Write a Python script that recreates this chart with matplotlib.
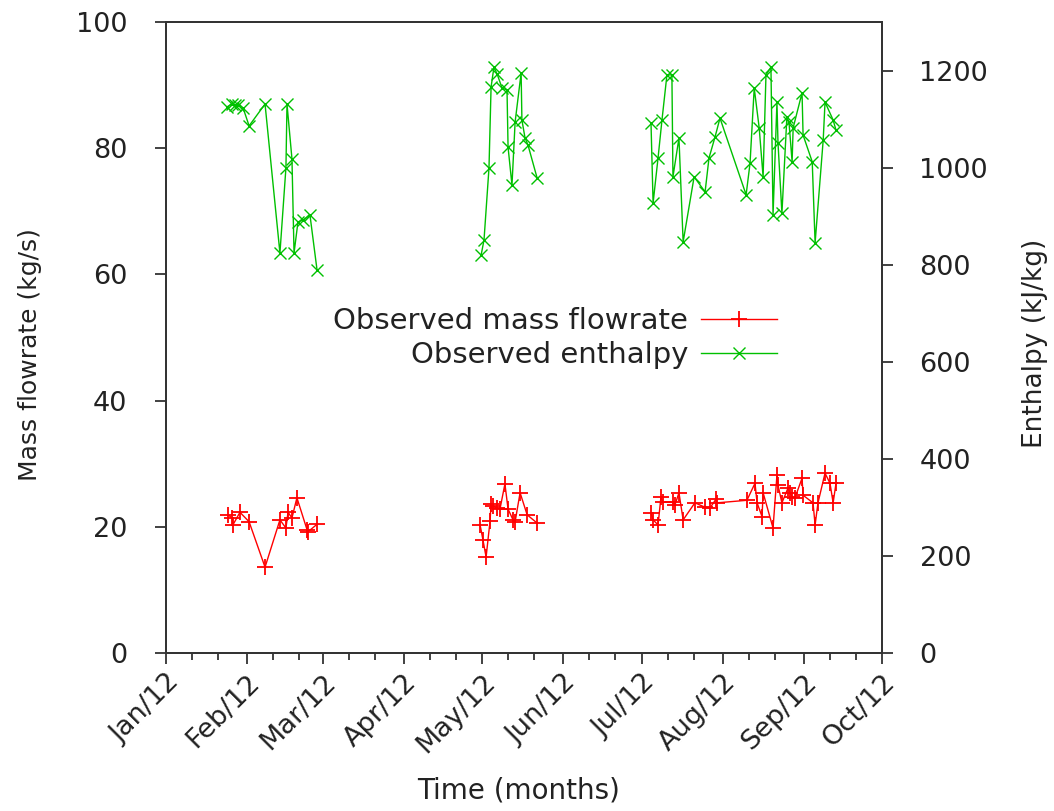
import numpy as np
import matplotlib
matplotlib.use("Agg")
import matplotlib.pyplot as plt
import matplotlib.dates as mdates

# ---- data (day offsets from 2012-01-01) ----
feb_mass_days = [23.7, 25.3, 25.6, 28.3, 31.8, 37.9, 43.6, 45.9, 46.7, 48.2, 50.1, 54.0, 54.3, 57.8]
feb_mass = [21.9, 21.4, 20.3, 22.3, 20.8, 13.6, 21.1, 19.8, 22.3, 21.4, 24.6, 19.5, 19.2, 20.4]
may_mass_days = [120.2, 121.3, 122.5, 124.0, 124.4, 125.1, 126.7, 127.8, 129.7, 130.9, 132.8, 133.6, 135.5, 138.2, 142.0]
may_mass = [20.3, 17.9, 15.2, 20.9, 23.6, 23.3, 23.0, 22.8, 26.8, 22.8, 21.1, 20.8, 25.4, 21.9, 20.6]
jul_mass_days = [185.6, 186.4, 188.3, 189.4, 190.2, 194.0, 194.8, 196.3, 197.9, 202.4, 206.3, 208.2,
                 210.5, 210.9, 222.3, 225.4, 226.2, 228.1, 228.5, 232.3, 233.8, 234.2, 235.7, 238.0,
                 238.8, 239.6, 240.7, 243.4, 243.8, 247.6, 248.4, 249.5, 252.2, 254.1, 255.3, 256.4]
jul_mass = [22.2, 21.1, 20.3, 24.7, 23.9, 23.9, 23.5, 25.4, 21.1, 23.8, 23.1, 23.0,
            24.4, 23.8, 24.2, 26.9, 23.8, 21.6, 25.4, 19.8, 28.2, 26.6, 23.8, 26.1,
            25.4, 24.7, 24.6, 27.7, 25.0, 23.8, 20.3, 23.8, 28.5, 26.9, 23.8, 26.9]

feb_enth_days = [23.3, 25.3, 26.4, 27.6, 29.5, 31.8, 37.9, 43.6, 45.9, 46.3, 48.2, 49.0, 50.5, 52.4, 55.1, 57.8]
feb_enth = [1125, 1131, 1129, 1129, 1123, 1086, 1131, 824, 1000, 1131, 1018, 824, 888, 892, 902, 789]
may_enth_days = [120.6, 121.7, 123.6, 124.4, 125.5, 126.7, 128.6, 130.5, 130.9, 132.4, 133.6, 135.9,
                 136.2, 137.4, 138.5, 142.0]
may_enth = [820, 851, 999, 1166, 1207, 1193, 1164, 1160, 1042, 964, 1094, 1195, 1098, 1061, 1047, 979]
jul_enth_days = [185.6, 186.4, 188.3, 189.8, 191.7, 193.6, 194.0, 196.3, 197.9, 202.1, 206.3, 207.8,
                 210.1, 212.0, 222.0, 223.5, 225.1, 227.0, 228.5, 229.6, 231.5, 232.3, 233.8, 234.2,
                 235.7, 237.6, 238.4, 239.6, 240.0, 243.4, 243.8, 247.3, 248.4, 251.5, 252.2, 255.3, 256.4]
jul_enth = [1092, 927, 1020, 1098, 1191, 1191, 981, 1061, 847, 981, 950, 1020,
            1063, 1102, 944, 1009, 1164, 1082, 981, 1191, 1207, 902, 1135, 1051,
            906, 1104, 1094, 1012, 1082, 1154, 1067, 1012, 845, 1057, 1135, 1098, 1077]

BASE = np.datetime64('2012-01-01T00:00')


def to_dates(days):
    return BASE + (np.array(days) * 24 * 60).astype(int).astype('timedelta64[m]')


plt.rcParams['font.family'] = ['DejaVu Sans']
FS_TICK = 19.5
FS_LEG = 21
FS_XLAB = 20
TXT = '#222222'
AXC = '#333333'

fig = plt.figure(figsize=(10.54, 8.11), dpi=100)
ax = fig.add_axes([166 / 1054, 1 - 653 / 811, (882 - 166) / 1054, (653 - 22) / 811])
ax2 = ax.twinx()

red = '#ff0000'
green = '#00c000'
lh_m = None
for d, v in [(feb_mass_days, feb_mass), (may_mass_days, may_mass), (jul_mass_days, jul_mass)]:
    l, = ax.plot(to_dates(d), v, color=red, lw=1.0, marker='+', ms=11, mew=1.3)
    lh_m = l
lh_e = None
for d, v in [(feb_enth_days, feb_enth), (may_enth_days, may_enth), (jul_enth_days, jul_enth)]:
    l, = ax2.plot(to_dates(d), v, color=green, lw=1.0, marker='x', ms=9, mew=1.0)
    lh_e = l

ax.set_xlim(np.datetime64('2012-01-01'), np.datetime64('2012-10-01'))
ax.set_ylim(0, 100)
ax2.set_ylim(0, 1300)
ax.set_yticks(range(0, 101, 20))
ax2.set_yticks(range(0, 1201, 200))

ax.xaxis.set_major_locator(mdates.MonthLocator())
ax.xaxis.set_major_formatter(mdates.DateFormatter('%b/%y'))
ax.xaxis.set_minor_locator(mdates.DayLocator(bymonthday=[11, 21]))

for a in (ax, ax2):
    for s in a.spines.values():
        s.set_linewidth(1.3)
        s.set_color(AXC)

ax.xaxis.set_tick_params(which='major', direction='out', length=8, width=1.3,
                         labelsize=FS_TICK, color=AXC, labelcolor=TXT, pad=4)
ax.xaxis.set_tick_params(which='minor', direction='out', length=5, width=1.3, color=AXC)
ax.yaxis.set_tick_params(which='major', direction='out', length=8, width=1.3,
                         labelsize=FS_TICK, color=AXC, labelcolor=TXT, pad=20)
ax2.tick_params(axis='y', which='major', direction='out', length=8, width=1.3,
                labelsize=FS_TICK, color=AXC, labelcolor=TXT, pad=19)

for lab in ax.get_xticklabels():
    lab.set_rotation(45)
    lab.set_ha('right')
    lab.set_va('top')
    lab.set_rotation_mode('anchor')

fig.text(519 / 1054, 1 - 790 / 811, 'Time (months)', ha='center', va='center', fontsize=FS_XLAB, color=TXT)
fig.text(30 / 1054, 1 - 355 / 811, 'Mass flowrate (kg/s)', ha='center', va='center',
         rotation=90, fontsize=18, color=TXT)
fig.text(1035 / 1054, 1 - 343 / 811, 'Enthalpy (kJ/kg)', ha='center', va='center',
         rotation=90, fontsize=19, color=TXT)

leg = ax.legend([lh_m, lh_e], ['Observed mass flowrate', 'Observed enthalpy'],
                loc='upper right', bbox_to_anchor=((777 - 166) / 716, (653 - 307) / 631),
                frameon=False, markerfirst=False, fontsize=FS_LEG, handlelength=2.6,
                handletextpad=0.45, labelspacing=0.22, numpoints=1, borderaxespad=0,
                borderpad=0)
for t in leg.get_texts():
    t.set_color(TXT)

fig.savefig('out.png', dpi=100)
